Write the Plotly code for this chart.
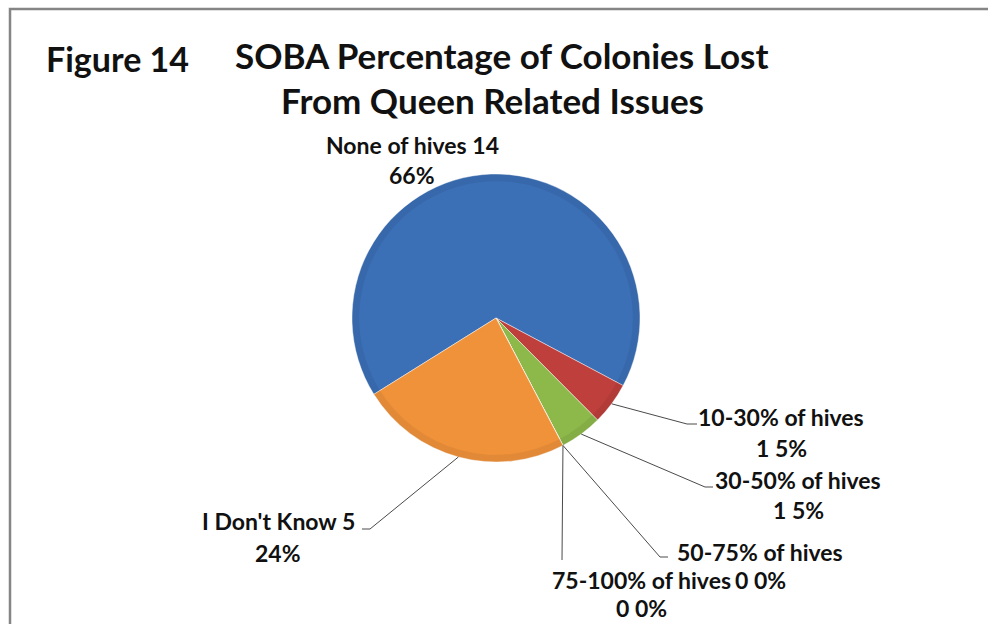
import math
import plotly.graph_objects as go

# ---- data ----
categories = ["None of hives", "10-30% of hives", "30-50% of hives",
              "50-75% of hives", "75-100% of hives", "I Don't Know"]
counts = [14, 1, 1, 0, 0, 5]
percents = ["66%", "5%", "5%", "0%", "0%", "24%"]
colors = ["#3B6FB6", "#BE3F3C", "#8DB84A", "#7F7F7F", "#7F7F7F", "#F0923A"]

W, H = 988, 624
CX, CY, R = 496, 318, 144
ROT = 238  # clockwise degrees from 12 o'clock where first slice starts

def px(x):
    return x / W

def py(y):
    return 1 - y / H

dom = dict(x=[px(CX - R), px(CX + R)], y=[py(CY + R), py(CY - R)])

fig = go.Figure()
fig.add_trace(go.Pie(
    labels=categories, values=counts, sort=False, direction="clockwise",
    rotation=ROT, textinfo="none", hoverinfo="label+value+percent",
    marker=dict(colors=colors, line=dict(color="rgba(255,255,255,0.45)", width=1)),
    domain=dom, showlegend=False,
))
# subtle bevel darkening at the rim
fig.add_trace(go.Pie(
    labels=categories, values=counts, sort=False, direction="clockwise",
    rotation=ROT, textinfo="none", hoverinfo="skip", hole=0.95,
    marker=dict(colors=["rgba(0,0,0,0.06)"] * len(counts), line=dict(width=0)),
    domain=dom, showlegend=False,
))

# ---- label layout (pixel positions of label lines and leader elbows) ----
FONT = "Lato, 'Open Sans', sans-serif"
LS = 23
label_pos = {
    0: dict(x=412, y1=145, y2=175, elbow=None),
    1: dict(x=781, y1=417, y2=448, elbow=(687, 424, 697)),
    2: dict(x=798, y1=480, y2=510, elbow=(705, 487, 713)),
    3: dict(x=760, y1=552, y2=580, elbow=(660, 557, 668)),
    4: dict(x=641, y1=580, y2=608, elbow=(562, 560, 562)),
    5: dict(x=278, y1=521, y2=553, elbow=(370, 529, 362)),
}
count_on_first_line = {0, 5}

total = sum(counts)
cum = 0
annotations = []
shapes = []
for i, (cat, v, pct) in enumerate(zip(categories, counts, percents)):
    mid = ROT + (cum + v / 2) / total * 360
    cum += v
    lp = label_pos[i]
    if i in count_on_first_line:
        l1, l2 = f"{cat} {v}", pct
    else:
        l1, l2 = cat, f"{v} {pct}"
    for txt, yy in ((l1, lp["y1"]), (l2, lp["y2"])):
        annotations.append(dict(x=px(lp["x"]), y=py(yy), xref="paper", yref="paper",
                                text=f"<b>{txt}</b>", showarrow=False, xanchor="center",
                                yanchor="middle", font=dict(family=FONT, size=LS, color="#111")))
    if lp["elbow"] is not None:
        a = math.radians(mid)
        sx = CX + R * math.sin(a)
        sy = CY - R * math.cos(a)
        ex, ey, hx = lp["elbow"]
        path = f"M {px(sx)} {py(sy)} L {px(ex)} {py(ey)} L {px(hx)} {py(ey)}"
        shapes.append(dict(type="path", xref="paper", yref="paper", path=path,
                           line=dict(color="#4a4a4a", width=1)))

# titles
TS = 35
annotations.append(dict(x=px(117), y=py(58), xref="paper", yref="paper", text="<b>Figure 14</b>",
                        showarrow=False, xanchor="center", yanchor="middle",
                        font=dict(family=FONT, size=34, color="#111")))
annotations.append(dict(x=px(502), y=py(55), xref="paper", yref="paper",
                        text="<b>SOBA Percentage of Colonies Lost</b>",
                        showarrow=False, xanchor="center", yanchor="middle",
                        font=dict(family=FONT, size=TS, color="#111")))
annotations.append(dict(x=px(492), y=py(100), xref="paper", yref="paper",
                        text="<b>From Queen Related Issues</b>",
                        showarrow=False, xanchor="center", yanchor="middle",
                        font=dict(family=FONT, size=TS, color="#111")))

# frame border
shapes.append(dict(type="rect", xref="paper", yref="paper", x0=px(10), x1=px(1000),
                   y0=py(640), y1=py(9), line=dict(color="#858585", width=2.5)))

fig.update_layout(width=W, height=H, margin=dict(l=0, r=0, t=0, b=0),
                  paper_bgcolor="white", plot_bgcolor="white",
                  annotations=annotations, shapes=shapes,
                  font=dict(family=FONT))
fig.write_html("out.html", config={"displayModeBar": False},
               post_script="document.body.style.margin='0';document.body.style.overflow='hidden';")
